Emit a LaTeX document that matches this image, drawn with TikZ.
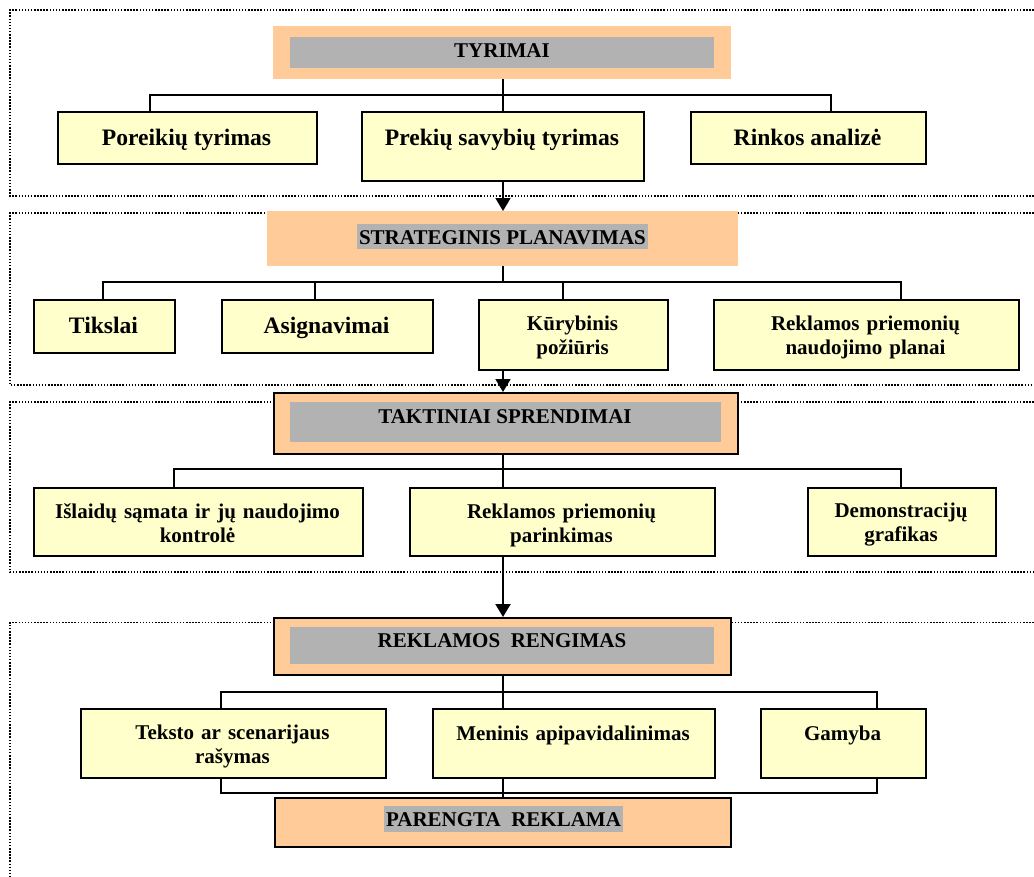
\documentclass[tikz,border=0pt]{standalone}
\usepackage{fontspec}
\setmainfont{Liberation Serif}
\usetikzlibrary{arrows.meta}
\definecolor{boxyellow}{HTML}{FFFFCC}
\definecolor{hdrorange}{HTML}{FFCC99}
\definecolor{hlgray}{HTML}{B2B2B2}

\begin{document}
\begin{tikzpicture}[x=1pt,y=-1pt,
  frame/.style={draw=black, line width=1.5pt, dash pattern=on 1.5pt off 1.6pt},
  ybox/.style={draw=black, line width=1.7pt, fill=boxyellow, anchor=north west, inner sep=0pt},
  obox/.style={fill=hdrorange, anchor=north west, inner sep=0pt},
  oboxb/.style={obox, draw=black, line width=1.9pt},
  gbox/.style={fill=hlgray, anchor=north west, inner sep=0pt},
  hdr/.style={anchor=base, inner sep=0pt, font=\bfseries\fontsize{21}{24}\selectfont},
  hl/.style={hdr, fill=hlgray, inner xsep=2.5pt, text height=20.5pt, text depth=5pt},
  tbig/.style={anchor=base, inner sep=0pt, font=\bfseries\fontsize{23.6}{27}\selectfont},
  tsm/.style={anchor=base, inner sep=0pt, text width=320pt, align=center,
    font=\bfseries\fontsize{21}{24}\selectfont},
  conn/.style={draw=black, line width=1.7pt},
  arr/.style={conn, -{Triangle[width=15pt,length=13pt]}},
]
\useasboundingbox (0,0) rectangle (1034,876);
\clip (0,0) rectangle (1034,876);

% dotted stage frames
\draw[frame] (1040,10) -- (10,10) -- (10,196) -- (1040,196);
\draw[frame] (1040,213) -- (10,213) -- (10,385) -- (1040,385);
\draw[frame] (1040,402) -- (10,402) -- (10,572) -- (1040,572);
\draw[frame] (1040,622.5) -- (10,622.5) -- (10,880);

% stage headers
\node[obox, minimum width=458pt, minimum height=53pt] (tyr) at (273,26) {};
\node[gbox, minimum width=424pt, minimum height=31pt] (tyrg) at (290,37) {};
\node[hdr] (tyrt) at (502,57.7) {TYRIMAI};

\node[obox, minimum width=471pt, minimum height=55pt] (str) at (267,211) {};
\node[hl] (strt) at (502.5,244.3) {STRATEGINIS PLANAVIMAS};

\node[oboxb, minimum width=464pt, minimum height=61pt] (tak) at (273,392) {};
\node[gbox, minimum width=431pt, minimum height=40pt] (takg) at (290,402) {};
\node[hdr] (takt) at (505,423.3) {TAKTINIAI SPRENDIMAI};

\node[oboxb, minimum width=457pt, minimum height=57pt] (rr) at (273,617) {};
\node[gbox, minimum width=424pt, minimum height=36.5pt] (rrg) at (290,627) {};
\node[hdr] (rrt) at (502,647.3) {REKLAMOS\ \ RENGIMAS};

\node[oboxb, minimum width=456pt, minimum height=49pt] (par) at (274,797) {};
\node[hl] (part) at (503.5,826.7) {PARENGTA\ \ REKLAMA};

% row 1
\node[ybox, minimum width=259pt, minimum height=52pt] (b11) at (57,111) {};
\node[ybox, minimum width=282pt, minimum height=69pt] (b12) at (361,111) {};
\node[ybox, minimum width=235pt, minimum height=52pt] (b13) at (690,111) {};
\node[tbig] (t11) at (186.5,145.5) {Poreikių tyrimas};
\node[tbig] (t12) at (502,145.5) {Prekių savybių tyrimas};
\node[tbig] (t13) at (807.5,145.5) {Rinkos analizė};

% row 2
\node[ybox, minimum width=141pt, minimum height=53pt] (b21) at (33,299) {};
\node[ybox, minimum width=211pt, minimum height=53pt] (b22) at (221,299) {};
\node[ybox, minimum width=189pt, minimum height=70pt] (b23) at (478,299) {};
\node[ybox, minimum width=305pt, minimum height=70pt] (b24) at (713,299) {};
\node[tbig] (t21) at (103.5,333.3) {Tikslai};
\node[tbig] (t22) at (326.5,333.3) {Asignavimai};
\node[tsm] (t23) at (572.5,330) {Kūrybinis\\požiūris};
\node[tsm] (t24) at (865.5,330) {Reklamos priemonių\\naudojimo planai};

% row 3
\node[ybox, minimum width=329pt, minimum height=68pt] (b31) at (33,487) {};
\node[ybox, minimum width=305pt, minimum height=68pt] (b32) at (409,487) {};
\node[ybox, minimum width=188pt, minimum height=68pt] (b33) at (807,487) {};
\node[tsm] (t31) at (197.5,518.3) {Išlaidų sąmata ir jų naudojimo\\kontrolė};
\node[tsm] (t32) at (561.5,518.3) {Reklamos priemonių\\parinkimas};
\node[tsm] (t33) at (901,517.5) {Demonstracijų\\grafikas};

% row 4
\node[ybox, minimum width=305pt, minimum height=69pt] (b41) at (80,708) {};
\node[ybox, minimum width=282pt, minimum height=69pt] (b42) at (432,708) {};
\node[ybox, minimum width=165pt, minimum height=69pt] (b43) at (760,708) {};
\node[tsm] (t41) at (232.5,739) {Teksto ar scenarijaus\\rašymas};
\node[tsm] (t42) at (573,740) {Meninis apipavidalinimas};
\node[tsm] (t43) at (842.5,740) {Gamyba};

% connectors
\coordinate (sp) at (503,0);
\coordinate (r1a) at (150,95);  \coordinate (r1b) at (831,95);
\coordinate (r2a) at (103,282); \coordinate (r2b) at (315,282);
\coordinate (r2c) at (563,282); \coordinate (r2d) at (901,282);
\coordinate (r3a) at (174,469); \coordinate (r3b) at (901,469);
\coordinate (r4a) at (221,692); \coordinate (r4b) at (877,692);
\coordinate (r5a) at (221,793); \coordinate (r5b) at (877,793);

\draw[conn] (tyr.south -| sp) -- (b12.north -| sp);
\draw[conn] (b11.north -| r1a) -- (r1a) -- (r1b) -- (b13.north -| r1b);
\draw[arr] (b12.south -| sp) -- (str.north -| sp);

\draw[conn] (str.south -| sp) -- (r2a -| sp);
\draw[conn] (b21.north -| r2a) -- (r2a) -- (r2d) -- (b24.north -| r2d);
\draw[conn] (r2b) -- (b22.north -| r2b);
\draw[conn] (r2c) -- (b23.north -| r2c);
\draw[arr] (b23.south -| sp) -- (tak.north -| sp);

\draw[conn] (tak.south -| sp) -- (b32.north -| sp);
\draw[conn] (b31.north -| r3a) -- (r3a) -- (r3b) -- (b33.north -| r3b);
\draw[arr, line width=2.2pt] (b32.south -| sp) -- (rr.north -| sp);

\draw[conn] (rr.south -| sp) -- (b42.north -| sp);
\draw[conn] (b41.north -| r4a) -- (r4a) -- (r4b) -- (b43.north -| r4b);
\draw[conn] (b41.south -| r5a) -- (r5a) -- (r5b) -- (b43.south -| r5b);
\draw[conn] (b42.south -| sp) -- (par.north -| sp);
\end{tikzpicture}
\end{document}
